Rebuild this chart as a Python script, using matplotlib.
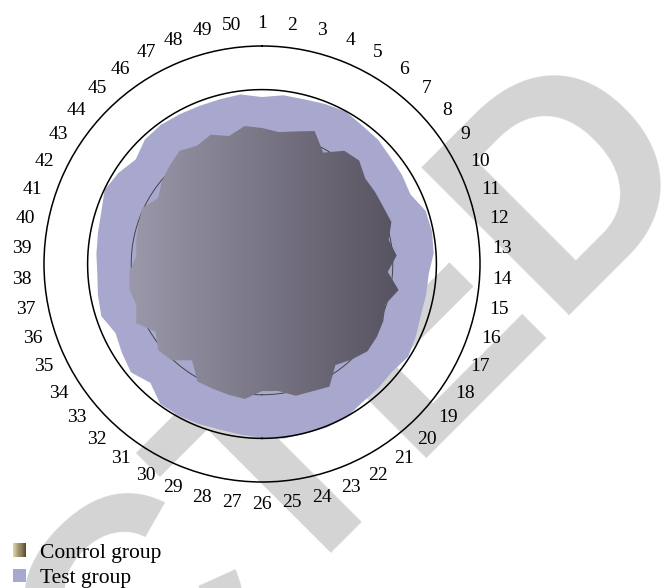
import numpy as np
import matplotlib
matplotlib.use("Agg")
import matplotlib.pyplot as plt
from matplotlib.legend_handler import HandlerBase
from matplotlib.patches import Rectangle, Patch
from matplotlib.colors import to_rgb

plt.rcParams["font.family"] = ["Liberation Serif", "DejaVu Serif"]

# 50 items (outer ring = 100)
items = [str(i) for i in range(1, 51)]
test_group = [76.6, 78.0, 78.0, 78.9, 79.8, 78.4, 78.0, 76.6, 76.1, 75.2,
              78.9, 79.4, 78.9, 76.6, 76.6, 76.6, 78.0, 79.4, 77.5, 78.0,
              78.4, 80.3, 80.7, 80.3, 80.7, 79.8, 78.9, 78.4, 78.9, 79.4,
              79.4, 74.8, 78.0, 76.1, 74.3, 77.5, 76.6, 75.7, 76.1, 76.6,
              77.5, 79.8, 78.0, 75.2, 78.4, 78.9, 78.4, 78.0, 78.0, 78.4]
control_group = [62.4, 61.0, 62.8, 65.6, 58.3, 64.2, 65.1, 61.5, 61.5, 61.5,
                 62.4, 59.2, 61.9, 57.8, 63.8, 59.6, 61.5, 62.4, 62.8, 60.1,
                 57.3, 64.2, 62.8, 62.4, 58.7, 58.3, 62.4, 61.9, 61.5, 61.5,
                 54.6, 60.6, 61.9, 57.8, 63.8, 60.6, 61.9, 61.0, 57.8, 58.7,
                 59.6, 60.6, 56.4, 59.6, 61.9, 64.2, 61.9, 63.8, 60.6, 63.8]
ring_levels = [60, 80]

purple = "#a8a8ce"
ctrl_left, ctrl_right = "#9b99ab", "#57525f"
legend_left, legend_right = "#ddd3a6", "#5c4c30"

fig = plt.figure(figsize=(6.68, 5.88), dpi=100)

# watermark behind everything
fig.text(705 / 668, 1 - 160 / 588, "RETRACTED", fontsize=218, color="#d4d4d4",
         family="Liberation Sans", weight="bold", rotation=45,
         rotation_mode="anchor", ha="right", va="baseline", zorder=-5)

rect = [44 / 668, 106 / 588, 436 / 668, 436 / 588]
ax = fig.add_axes(rect, projection="polar")
ax.set_theta_zero_location("N")
ax.set_theta_direction(-1)
ax.patch.set_visible(False)
ax.grid(False)
ax.set_xticks([])
ax.set_yticks([])
ax.set_ylim(0, 100)

theta = np.linspace(0, 2 * np.pi, len(items), endpoint=False)

# start the outlines at the bottom so no seam falls on the top spoke
k0 = len(items) // 2
th = np.roll(theta, -k0)
tg = np.roll(test_group, -k0)
cg = np.roll(control_group, -k0)

ax.fill(th, tg, facecolor=purple, edgecolor="none", zorder=1, clip_on=False)
clip = ax.fill(th, cg, facecolor="none", edgecolor="none", clip_on=False)[0]

# ring lines
ring = np.linspace(np.pi, 3 * np.pi, 361)
ax.plot(ring, np.full_like(ring, ring_levels[0]), color="#444444", lw=0.7,
        zorder=2, clip_on=False)
ax.plot(ring, np.full_like(ring, ring_levels[1]), color="black", lw=1.1,
        zorder=2, clip_on=False)
ax.spines["polar"].set_linewidth(1.1)

for t, lab in zip(theta, items):
    ax.text(t, 110.5, lab, ha="center", va="center", fontsize=14, clip_on=False)

# horizontal gradient for the control group, clipped to its polygon
ax2 = fig.add_axes(rect)
ax2.axis("off")
c0, c1 = np.array(to_rgb(ctrl_left)), np.array(to_rgb(ctrl_right))
w = np.linspace(0, 1, 256)[None, :, None]
grad = c0 + (c1 - c0) * w
im = ax2.imshow(grad, extent=(-62, 63, -70, 70), aspect="auto", zorder=3)
ax2.set_xlim(-100, 100)
ax2.set_ylim(-100, 100)
im.set_clip_path(clip)


class GradientHandler(HandlerBase):
    def create_artists(self, legend, orig_handle, xdescent, ydescent,
                       width, height, fontsize, trans):
        a, b = np.array(to_rgb(legend_left)), np.array(to_rgb(legend_right))
        n = 12
        out = []
        for k in range(n):
            col = a + (b - a) * k / (n - 1)
            r = Rectangle((-xdescent + width * k / n, -ydescent), width / n + 0.3,
                          height, facecolor=col, edgecolor="none", transform=trans)
            out.append(r)
        return out


h_ctrl = Patch(label="Control group")
h_test = Patch(facecolor=purple, label="Test group")
fig.legend(handles=[h_ctrl, h_test], loc="lower left",
           bbox_to_anchor=(13 / 668, 0), frameon=False, fontsize=15.5,
           handlelength=0.6, handleheight=0.6, handletextpad=0.66,
           borderpad=0, borderaxespad=0, labelspacing=0.28,
           handler_map={h_ctrl: GradientHandler()})

fig.savefig("out.png", dpi=100)
